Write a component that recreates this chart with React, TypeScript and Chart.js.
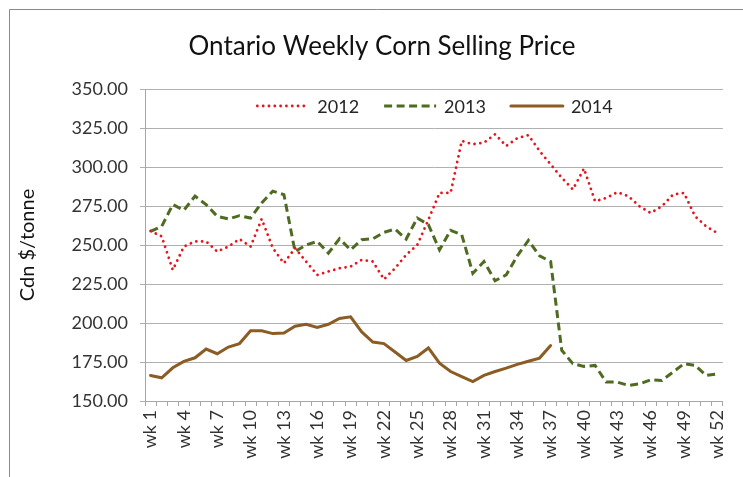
import React, { useEffect, useRef } from "react";
import { Chart, registerables } from "chart.js";

Chart.register(...registerables);

const chartTitle = "Ontario Weekly Corn Selling Price";
const yAxisTitle = "Cdn $/tonne";

const weeks = [
  "wk 1", "wk 2", "wk 3", "wk 4", "wk 5", "wk 6", "wk 7", "wk 8", "wk 9", "wk 10",
  "wk 11", "wk 12", "wk 13", "wk 14", "wk 15", "wk 16", "wk 17", "wk 18", "wk 19", "wk 20",
  "wk 21", "wk 22", "wk 23", "wk 24", "wk 25", "wk 26", "wk 27", "wk 28", "wk 29", "wk 30",
  "wk 31", "wk 32", "wk 33", "wk 34", "wk 35", "wk 36", "wk 37", "wk 38", "wk 39", "wk 40",
  "wk 41", "wk 42", "wk 43", "wk 44", "wk 45", "wk 46", "wk 47", "wk 48", "wk 49", "wk 50",
  "wk 51", "wk 52",
];

const shownWeekTicks = [
  "wk 1", "wk 4", "wk 7", "wk 10", "wk 13", "wk 16", "wk 19", "wk 22", "wk 25",
  "wk 28", "wk 31", "wk 34", "wk 37", "wk 40", "wk 43", "wk 46", "wk 49", "wk 52",
];

const seriesNames = ["2012", "2013", "2014"];

const price2012 = [
  259, 255.5, 234, 249, 252.3, 252.3, 245.8, 249, 253.8, 249,
  266.7, 248, 238.3, 248, 239.4, 230.8, 233, 235.1, 236.2, 240.5,
  239.4, 228, 235.1, 243.7, 250.1, 266.2, 283.4, 283.4, 316.7, 314.6,
  315.6, 321, 313.5, 318.5, 320.4, 310.3, 301.7, 293.1, 285.6, 299,
  278, 280.2, 283.8, 281.3, 274.8, 270.5, 274.8, 282.3, 283.4, 268.4,
  261.9, 257.7,
];

const price2013 = [
  258.7, 261.9, 275.9, 272.3, 281.3, 275.9, 268.4, 266.7, 268.8, 267.3,
  277, 284.5, 282.3, 245.8, 250.1, 252.3, 244.8, 254, 246.9, 253.4,
  254, 258.1, 260.2, 253.8, 267.3, 263, 246.9, 259.4, 256.6, 231.9,
  239.4, 227.1, 230.8, 243, 253, 243, 239.4, 182.5, 173.9, 172.2,
  172.8, 162.1, 162.1, 160, 161, 163.6, 163.1, 168.5, 173.9, 172.8,
  166.4, 167.4,
];

const price2014 = [
  166.4, 164.9, 171.3, 175.4, 177.7, 183.3, 180.3, 184.6, 186.8, 195,
  195, 193.2, 193.6, 197.9, 199.2, 197.1, 199.2, 202.9, 204, 194.3,
  187.8, 186.8, 181.4, 176, 178.6, 184, 174.3, 168.9, 165.7, 162.5,
  166.4, 168.9, 171.1, 173.5, 175.5, 177.5, 185.5,
];

const yMin = 150;
const yMax = 350;
const yStep = 25;

const FONT = "Lato, 'Open Sans', sans-serif";

const framePlugin = {
  id: "frameTitleLegend",
  beforeDraw(chart: any) {
    const { ctx } = chart;
    ctx.save();
    ctx.fillStyle = "#ffffff";
    ctx.fillRect(0, 0, chart.width, chart.height);
    ctx.strokeStyle = "#8a8a8a";
    ctx.lineWidth = 1;
    ctx.beginPath();
    ctx.moveTo(9.5, chart.height);
    ctx.lineTo(9.5, 9.5);
    ctx.lineTo(chart.width, 9.5);
    ctx.stroke();
    ctx.restore();
  },
  afterDraw(chart: any) {
    const { ctx } = chart;
    ctx.save();
    // title
    ctx.font = `26px ${FONT}`;
    ctx.fillStyle = "#111111";
    ctx.textAlign = "center";
    ctx.textBaseline = "middle";
    ctx.fillText(chartTitle, 382, 47);

    // legend
    ctx.font = `18px ${FONT}`;
    const lineLen = 52;
    const gapText = 8;
    const gapItem = 25;
    const items = chart.data.datasets.map((ds: any) => ({
      ds,
      w: lineLen + gapText + ctx.measureText(ds.label).width,
    }));
    const total =
      items.reduce((s: number, it: any) => s + it.w, 0) + gapItem * (items.length - 1);
    let x = 435 - total / 2;
    const y = 106;
    for (const it of items) {
      const ds = it.ds;
      ctx.save();
      ctx.strokeStyle = ds.borderColor;
      ctx.lineWidth = ds.borderWidth;
      ctx.lineCap = ds.borderCapStyle || "butt";
      ctx.setLineDash(ds.borderDash || []);
      ctx.beginPath();
      ctx.moveTo(x, y);
      ctx.lineTo(x + lineLen, y);
      ctx.stroke();
      ctx.restore();
      ctx.fillStyle = "#262626";
      ctx.textAlign = "left";
      ctx.textBaseline = "middle";
      ctx.fillText(ds.label, x + lineLen + gapText, y + 1);
      x += it.w + gapItem;
    }
    ctx.restore();
  },
};

export default function App() {
  const canvasRef = useRef<HTMLCanvasElement | null>(null);

  useEffect(() => {
    if (!canvasRef.current) return;
    const chart = new Chart(canvasRef.current, {
      type: "line",
      data: {
        labels: weeks,
        datasets: [
          {
            label: seriesNames[0],
            data: price2012,
            borderColor: "#e3161d",
            backgroundColor: "#e3161d",
            borderWidth: 2.8,
            borderDash: [0.01, 5.8],
            borderCapStyle: "round",
            pointRadius: 0,
            tension: 0,
            fill: false,
          },
          {
            label: seriesNames[1],
            data: price2013,
            borderColor: "#4f6b22",
            backgroundColor: "#4f6b22",
            borderWidth: 3,
            borderDash: [8, 4.5],
            borderCapStyle: "butt",
            pointRadius: 0,
            tension: 0,
            fill: false,
          },
          {
            label: seriesNames[2],
            data: price2014,
            borderColor: "#8b5c24",
            backgroundColor: "#8b5c24",
            borderWidth: 3,
            borderCapStyle: "round",
            pointRadius: 0,
            tension: 0,
            fill: false,
          },
        ],
      },
      options: {
        responsive: false,
        animation: false,
        layout: { padding: { left: 10, right: 5, top: 89, bottom: 0 } },
        plugins: {
          legend: { display: false },
          title: { display: false },
          tooltip: { enabled: false },
        },
        scales: {
          x: {
            type: "category",
            offset: true,
            grid: {
              display: true,
              offset: true,
              drawOnChartArea: false,
              drawTicks: true,
              tickLength: 5,
              color: "#a6a6a6",
            },
            border: { display: true, color: "#a6a6a6" },
            ticks: {
              autoSkip: false,
              maxRotation: 90,
              minRotation: 90,
              padding: 4,
              color: "#333333",
              font: { family: FONT, size: 18 },
              callback: function (this: any, _v: any, i: number) {
                const lab = weeks[i];
                return shownWeekTicks.includes(lab) ? lab : "";
              },
            },
            afterFit(scale: any) {
              scale.height = 76;
            },
          },
          y: {
            min: yMin,
            max: yMax,
            grid: {
              color: "#b0b0b0",
              drawTicks: true,
              tickLength: 5,
            },
            border: { display: true, color: "#a6a6a6" },
            ticks: {
              stepSize: yStep,
              padding: 12,
              color: "#333333",
              font: { family: FONT, size: 18 },
              callback: (v: any) => Number(v).toFixed(2),
            },
            title: {
              display: true,
              text: yAxisTitle,
              color: "#111111",
              font: { family: FONT, size: 20 },
              padding: { top: 6, bottom: 0 },
            },
            afterFit(scale: any) {
              scale.width = 135;
            },
          },
        },
      },
      plugins: [framePlugin],
    });
    return () => chart.destroy();
  }, []);

  return (
    <div
      style={{
        position: "fixed",
        left: 0,
        top: 0,
        width: 743,
        height: 477,
        background: "#fff",
      }}
    >
      <canvas ref={canvasRef} width={743} height={477} style={{ width: 743, height: 477, display: "block" }} />
    </div>
  );
}
